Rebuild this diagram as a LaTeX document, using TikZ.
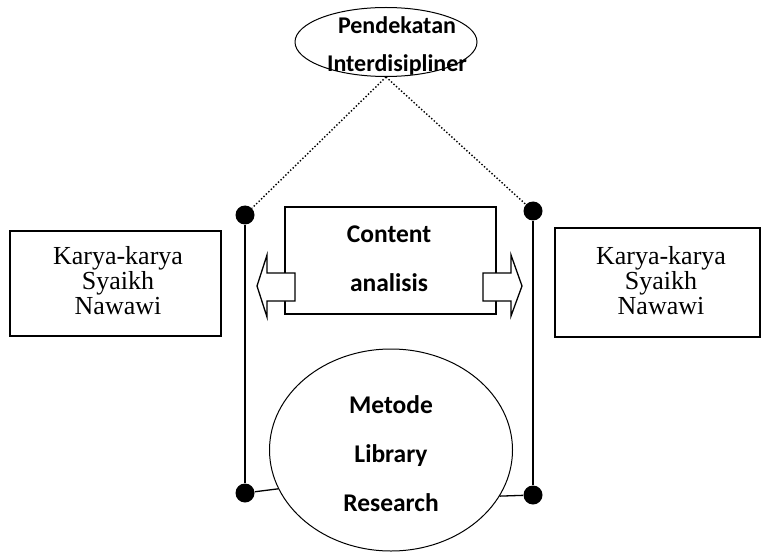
\documentclass[tikz,border=0pt]{standalone}
\usepackage{fontspec}
\setmainfont{Liberation Serif}
\newfontfamily\calibri{Carlito}
\usetikzlibrary{shapes.geometric}
\tikzset{
	% ------- every something
	every picture/.style={
		x=1pt, y=-1pt,
	},
	every path/.style={
		line width=1pt,
	},
	% ------- custom
	dot/.style={
		circle, fill=black, inner sep=0pt, minimum size=19pt,
	},
	frame/.style={
		draw, line width=1.3pt, rectangle, inner sep=0pt,
	},
	oval/.style={
		draw, line width=1pt, ellipse, inner sep=0pt,
	},
	serif text/.style={
		align=center, inner sep=0pt,
		font=\fontsize{26}{25}\selectfont,
	},
	sans text/.style={
		align=center, inner sep=0pt,
		font=\calibri\bfseries\fontsize{25.5}{49}\selectfont,
	},
	pole/.style={
		line width=2pt,
	},
	link/.style={
		line width=1.3pt,
	},
	guide/.style={
		line width=1.4pt, dotted,
	},
	block arrow/.style={
		draw, line width=1.3pt, fill=white, line join=miter,
	},
}

\begin{document}
\begin{tikzpicture}

	\useasboundingbox (0,0) rectangle (762,553);

% shapes %{{{1

	\node[oval, minimum width=182pt, minimum height=69pt] (pend) at (386,42) {};
	\node[frame, minimum width=211pt, minimum height=107pt] (content) at (390.5,260.5) {};
	\node[oval, minimum width=243pt, minimum height=202pt] (lib) at (391,450) {};
	\node[frame, minimum width=211pt, minimum height=105pt] (karyaL) at (115.5,283.5) {};
	\node[frame, minimum width=205pt, minimum height=109pt] (karyaR) at (657.5,282.5) {};

% points, dots %{{{1

	\node[dot] (LT) at (245,215) {};
	\node[dot] (LB) at (245,493) {};
	\node[dot] (RT) at (533,211) {};
	\node[dot] (RB) at (533,495) {};

% block arrows %{{{1

	\draw[block arrow] (295,273) -- (267,273) -- (267,255) -- (257,286)
		-- (267,317) -- (267,301) -- (295,301) -- cycle;
	\draw[block arrow] (483,273) -- (511,273) -- (511,255) -- (522,286)
		-- (511,316) -- (511,301) -- (483,301) -- cycle;

% segments %{{{1

	\draw[guide] (pend.south) -- (LT);
	\draw[guide] (pend.south) -- (RT);
	\draw[pole] (LT) -- (LB);
	\draw[pole] (RT) -- (RB);
	\draw[link] (LB) -- (lib.199);
	\draw[link] (RB) -- (lib.337);

% labels %{{{1

	\node[sans text, font=\calibri\bfseries\fontsize{24}{38}\selectfont]
		(pendtext) at (397,46) {Pendekatan\\Interdisipliner};
	\node[sans text] (contenttext) at (389,259) {Content\\analisis};
	\node[sans text] (libtext) at (391,454) {Metode\\Library\\Research};
	\node[serif text] (karyaLtext) at (118,281) {Karya-karya\\Syaikh\\Nawawi};
	\node[serif text] (karyaRtext) at (661,281) {Karya-karya\\Syaikh\\Nawawi};

% closing %{{{1

\end{tikzpicture}
\end{document}
